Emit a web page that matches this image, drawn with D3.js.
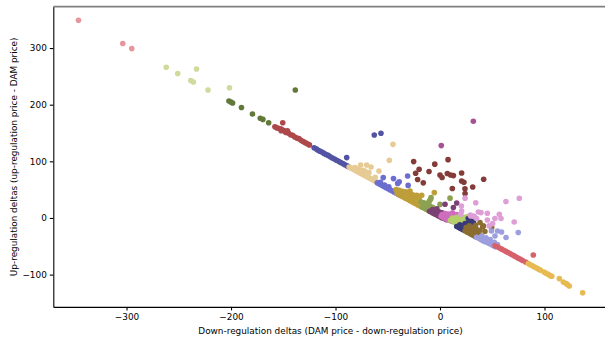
<!DOCTYPE html>
<html>
<head>
<meta charset="utf-8">
<script src="https://cdn.jsdelivr.net/npm/d3@7"></script>
<style>
  body { margin: 0; background: #fff; }
  svg text { font-family: "DejaVu Sans", sans-serif; }
</style>
</head>
<body>
<svg id="chart" width="605" height="337"></svg>
<script>
const xTicks = [-300, -200, -100, 0, 100];
const yTicks = [-100, 0, 100, 200, 300];
const xLabel = "Down-regulation deltas (DAM price - down-regulation price)";
const yLabel = "Up-regulation deltas (up-regulation price - DAM price)";

// each point: [down-regulation delta, up-regulation delta]
const clusterExtreme = [[-346, 349], [-303.6, 308], [-295, 299]];
const clusterVeryHigh = [[-262, 266], [-251, 255], [-238.5, 242.5], [-236, 240], [-233, 263], [-222, 226], [-201.5, 230]];
const clusterHigh = [[-202, 206.5], [-200, 204.5], [-198.5, 203], [-190, 195], [-179.5, 183.5], [-172, 176],
    [-169.5, 174], [-164, 168], [-138.5, 226]];
const clusterUpper = [[-158, 161], [-156, 159], [-154, 158], [-152, 157], [-152, 154], [-150, 155], [-148, 153],
    [-148, 152], [-147, 151], [-146, 154], [-145, 150], [-143, 147], [-141, 146], [-139, 143], [-137, 141],
    [-135, 140], [-133, 137], [-131, 135], [-129, 133], [-127, 131], [-125, 129], [-150.5, 168]];
const clusterUpperMid = [[-120.5, 124], [-118.5, 122], [-117, 120], [-115, 118], [-113, 116.5], [-111, 114],
    [-109, 112], [-107, 110.5], [-105, 108], [-103, 106], [-101, 104], [-99, 102], [-97, 100], [-95, 98],
    [-93, 96], [-91, 94], [-89, 92], [-88, 91], [-89.3, 106.6], [-62.9, 146.5], [-56.5, 149.5]];
const clusterMidHigh = [[-87, 90], [-85, 88], [-83, 86], [-81, 84], [-79, 82], [-77, 80], [-75, 78], [-73, 76],
    [-71, 74], [-69, 72], [-67, 70], [-65, 68], [-63, 66], [-61, 64], [-81.3, 89], [-76, 93.6], [-70.2, 93.6],
    [-66, 90], [-71.8, 83], [-58.4, 83], [-78, 86], [-74, 84], [-68, 80], [-62, 72], [-48.5, 102], [-45, 130]];
const clusterMid = [[-60, 62], [-58, 60], [-56, 58], [-54, 56], [-52, 54], [-50, 52], [-48, 50], [-46, 48],
    [-44, 46], [-42, 44], [-40, 42], [-38.5, 40.5], [-57, 63], [-53, 58], [-49, 55], [-54.3, 71.3],
    [-44.5, 69.5], [-40.5, 61], [-39, 64], [-30.5, 57.5], [-31, 74]];
const clusterMidLow = [[-41, 43], [-39, 41], [-37, 39], [-35, 37], [-33, 35], [-31, 33], [-29, 31], [-27, 29],
    [-25, 27], [-23, 25], [-21, 23], [-19, 21], [-17, 19], [-40, 47], [-37, 45], [-34, 43], [-31, 40],
    [-28.7, 47.7], [-27, 38], [-24, 35], [-22.3, 40], [-20, 30], [-18, 27], [-17.5, 40], [-5.4, 44.8],
    [-42, 50], [-39, 49], [-36, 47], [-33, 46], [-30, 44], [-26, 41], [-23, 37], [-20, 34]];
const clusterSmallUp = [[-17, 19], [-15, 17], [-13, 15], [-11, 13], [-9, 11], [-7, 9], [-5, 7], [-15, 22],
    [-12, 20], [-10, 18], [-8, 15], [-6, 13], [-8.6, 36], [-10.2, 30], [-9, 33], [9.6, 35], [0, 24],
    [-18, 28], [-16, 27], [-14, 26], [-12, 24], [-10, 22], [-7, 19], [-5, 14], [-3, 12]];
const clusterNearZero = [[-10, 12], [-8, 10], [-6, 8], [-4, 6], [-2, 4], [0, 2], [2, 0], [4, -1], [6, -3],
    [-7, 15], [-4, 13], [-1, 11], [2, 9], [5, 7], [-3, 16], [4.8, 24.2], [16, 26.5], [12.8, 18.4]];
const clusterZero = [[1, 3], [3, 1], [5, -1], [7, -3], [9, -4], [11, -6], [4, 5], [7, 3], [10, 1], [13, -1],
    [15, 2], [12, 9], [16, 6], [2, 6], [5, 8], [8, 7], [10, 5], [14, 4]];
const clusterSmallDown = [[12, -6], [14, -8], [14, -2], [16, -4], [16, 1], [18, -1], [18, -6], [20, -8],
    [20, 2], [22, 0], [22, -5], [24, 1], [26, 2], [28, 0], [25, -4], [21, -11], [17, -10], [19, -14],
    [10, -4], [12, 0]];
const clusterLowMid = [[16, -15], [18, -17], [20, -19], [22, -21], [19, -12], [22, -14], [25, -16], [28, -18],
    [24, -10], [27, -9], [30, -12], [27, -1], [31.9, -2.3], [29, -5], [32, -8], [24, -20]];
const clusterLow = [[24, -23], [26, -25], [28, -27], [30, -29], [32, -31], [34, -33], [27, -20], [30, -22],
    [33, -24], [36, -27], [38, -30], [35, -20], [38.3, -8.1], [40.8, -15.9], [41.5, -14], [49.5, -17],
    [43, -24], [34, -13], [38, -22], [28, -14], [31, -17], [25, -17], [33, -20]];
const clusterLower = [[35, -34], [37, -36], [39, -38], [41, -40], [43, -42], [45, -43], [47, -45], [49, -47],
    [51, -49], [53, -51], [40, -32], [44, -35], [48, -38], [52, -43], [55, -47], [49.2, -23], [55, -23],
    [58.9, -24.7], [52.6, -31.8], [63.2, -34.6], [74.9, -25.8]];
const clusterVeryLow = [[52.6, -49], [55, -51], [57, -53], [59, -55], [61, -57], [63, -59], [65, -61],
    [67, -63], [69, -65], [71, -67], [73, -69], [75, -71], [77, -73], [79, -75], [82, -77.7], [89.3, -65.3]];
const clusterExtremeLow = [[84.5, -80.5], [86.5, -82.5], [88.5, -84.5], [90.5, -86.5], [92.5, -88.5],
    [94.5, -90.5], [96, -92], [99.5, -95.3], [101.5, -97.5], [103.5, -99.5], [105.5, -102], [107, -103],
    [114.2, -107], [118, -113], [120.6, -115.8], [122, -117.5], [123.7, -120], [136.5, -132]];
const clusterScatterUp = [[-25.2, 99.5], [-20, 86], [-23.3, 79], [-21.4, 68], [-16, 62], [-10.5, 82],
    [-5, 95], [7.7, 103], [0, 76], [2, 71.5], [7, 78.4], [10.2, 76], [12.8, 74.8], [20.7, 79.4], [20.7, 65.3],
    [22.9, 63], [41.8, 68.3], [11.8, 52], [23.9, 51.5], [31.3, 54.7], [24, 43]];
const clusterScatterTop = [[1.2, 127.8], [31.9, 170.7]];
const clusterScatterSide = [[24, 35], [34.2, 27], [20.5, 21], [20.7, 12.4], [36.7, 10.6], [39.2, 9.5],
    [45.3, 8.3], [56.8, 6.5], [58.4, -1], [52.6, -1], [45.3, -3.5], [50.4, -9.9], [47, -14], [63.1, 29],
    [75.9, 34.8], [71, -7], [29.4, 3.5], [31.9, 3.5], [20, 6.5], [29, 5], [33, 2], [35, -1]];

const clusters = [
    { name: "extreme", points: clusterExtreme },
    { name: "veryHigh", points: clusterVeryHigh },
    { name: "high", points: clusterHigh },
    { name: "upper", points: clusterUpper },
    { name: "upperMid", points: clusterUpperMid },
    { name: "midHigh", points: clusterMidHigh },
    { name: "mid", points: clusterMid },
    { name: "midLow", points: clusterMidLow },
    { name: "smallUp", points: clusterSmallUp },
    { name: "nearZero", points: clusterNearZero },
    { name: "zero", points: clusterZero },
    { name: "smallDown", points: clusterSmallDown },
    { name: "lowMid", points: clusterLowMid },
    { name: "low", points: clusterLow },
    { name: "lower", points: clusterLower },
    { name: "veryLow", points: clusterVeryLow },
    { name: "extremeLow", points: clusterExtremeLow },
    { name: "scatterUp", points: clusterScatterUp },
    { name: "scatterTop", points: clusterScatterTop },
    { name: "scatterSide", points: clusterScatterSide }
];

const clusterColors = {
    extreme: "#e7969c", veryHigh: "#cedb9c", high: "#637939", upper: "#ad494a",
    upperMid: "#5254a3", midHigh: "#e7cb94", mid: "#6b6ecf", midLow: "#bd9e39",
    smallUp: "#8ca252", nearZero: "#7b4173", zero: "#ce6dbd", smallDown: "#b5cf6b",
    lowMid: "#393b79", low: "#8c6d31", lower: "#9c9ede", veryLow: "#d6616b",
    extremeLow: "#e7ba52", scatterUp: "#843c39", scatterTop: "#a55194", scatterSide: "#de9ed6"
};

const plot = { left: 53.3, right: 607.8, top: 6.7, bottom: 306.9 };

const svg = d3.select("#chart");

const xScale = d3.scaleLinear()
    .domain([-370.1, 160.6])
    .range([plot.left, plot.right]);

const yScale = d3.scaleLinear()
    .domain([-157, 373])
    .range([plot.bottom, plot.top]);

// top spine (right spine falls outside the image)
svg.append("line")
    .attr("x1", plot.left).attr("x2", plot.right)
    .attr("y1", plot.top).attr("y2", plot.top)
    .attr("stroke", "#808080")
    .attr("stroke-width", 1.8);

const xAxis = d3.axisBottom(xScale)
    .tickValues(xTicks)
    .tickSize(3.5)
    .tickSizeOuter(0)
    .tickPadding(3);

const yAxis = d3.axisLeft(yScale)
    .tickValues(yTicks)
    .tickSize(3.5)
    .tickSizeOuter(0)
    .tickPadding(3);

const gx = svg.append("g")
    .attr("transform", "translate(0," + plot.bottom + ")")
    .call(xAxis);

const gy = svg.append("g")
    .attr("transform", "translate(" + plot.left + ",0)")
    .call(yAxis);

[gx, gy].forEach(g => {
    g.attr("font-family", "DejaVu Sans, sans-serif").attr("font-size", 8.9);
    g.selectAll("path.domain").attr("stroke", "#000").attr("stroke-width", 1.1);
    g.selectAll(".tick line").attr("stroke", "#000").attr("stroke-width", 1.1);
    g.selectAll(".tick text").attr("fill", "#000");
});

clusters.forEach(c => {
    svg.append("g")
        .selectAll("circle")
        .data(c.points)
        .join("circle")
        .attr("cx", d => xScale(d[0]))
        .attr("cy", d => yScale(d[1]))
        .attr("r", 2.8)
        .attr("fill", clusterColors[c.name]);
});

svg.append("text")
    .attr("x", (plot.left + plot.right) / 2)
    .attr("y", 333.5)
    .attr("text-anchor", "middle")
    .attr("font-size", 8.9)
    .attr("fill", "#000")
    .text(xLabel);

svg.append("text")
    .attr("transform", "translate(16.5," + (plot.top + plot.bottom) / 2 + ") rotate(-90)")
    .attr("text-anchor", "middle")
    .attr("font-size", 8.9)
    .attr("fill", "#000")
    .text(yLabel);
</script>
</body>
</html>
